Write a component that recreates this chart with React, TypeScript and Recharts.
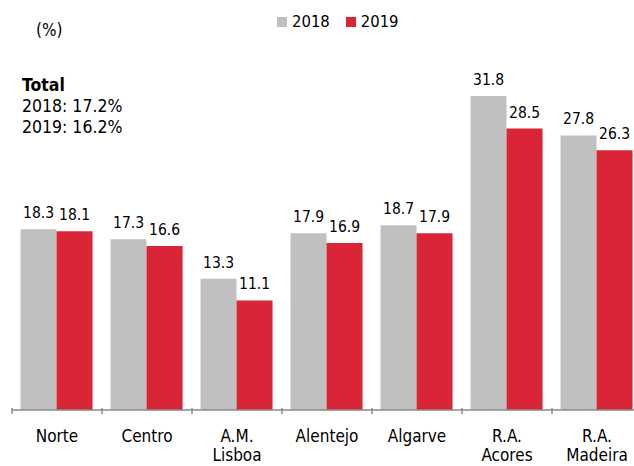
import React from "react";
import { BarChart, Bar, XAxis, YAxis, LabelList } from "recharts";

const categories = ["Norte", "Centro", "A.M.\nLisboa", "Alentejo", "Algarve", "R.A.\nAcores", "R.A.\nMadeira"];
const values2018 = [18.3, 17.3, 13.3, 17.9, 18.7, 31.8, 27.8];
const values2019 = [18.1, 16.6, 11.1, 16.9, 17.9, 28.5, 26.3];
const seriesNames = ["2018", "2019"];
const totalLines = ["2018: 17.2%", "2019: 16.2%"];

const data = categories.map((c, i) => ({ name: c, a: values2018[i], b: values2019[i] }));

const GRAY = "#C0C0C0";
const RED = "#DA2536";
const FONT = "'DejaVu Sans Condensed', 'DejaVu Sans', Verdana, sans-serif";

const CustomTick = (props: any) => {
  const { x, y, payload } = props;
  const lines = String(payload.value).split("\n");
  const half = 45;
  return (
    <g>
      <line x1={x - half} x2={x - half} y1={y - 10} y2={y - 4} stroke="#8a8a8a" strokeWidth={1.5} />
      {payload.index === categories.length - 1 && (
        <line x1={x + half} x2={x + half} y1={y - 10} y2={y - 4} stroke="#8a8a8a" strokeWidth={1.5} />
      )}
      {lines.map((l, i) => (
        <text key={i} x={x} y={y + 24 + i * 19} textAnchor="middle" fontSize={17} fill="#000" fontFamily={FONT}>
          {l}
        </text>
      ))}
    </g>
  );
};

export default function App() {
  return (
    <div style={{ position: "absolute", left: 0, top: 0, width: 634, height: 466, overflow: "hidden", background: "#fff" }}>
      <BarChart
        width={642}
        height={466}
        data={data}
        margin={{ top: 15, right: 0, left: 12, bottom: 0 }}
        barCategoryGap="9.5%"
        barGap={0}
      >
        <XAxis
          dataKey="name"
          axisLine={{ stroke: "#8a8a8a", strokeWidth: 1.5 }}
          tickLine={false}
          interval={0}
          height={56}
          tick={<CustomTick />}
        />
        <YAxis hide domain={[0, 40]} />
        <Bar dataKey="a" name={seriesNames[0]} fill={GRAY} isAnimationActive={false}>
          <LabelList dataKey="a" position="top" offset={11} fontSize={15.5} fill="#000" fontFamily={FONT} />
        </Bar>
        <Bar dataKey="b" name={seriesNames[1]} fill={RED} isAnimationActive={false}>
          <LabelList dataKey="b" position="top" offset={11} fontSize={15.5} fill="#000" fontFamily={FONT} />
        </Bar>
      </BarChart>
      <div style={{ position: "absolute", left: 277, top: 12, display: "flex", alignItems: "center", fontFamily: FONT, fontSize: 16.5, color: "#000", lineHeight: "20px" }}>
        <span style={{ display: "inline-block", width: 10, height: 10, background: GRAY, marginRight: 5 }} />
        <span style={{ marginRight: 16 }}>{seriesNames[0]}</span>
        <span style={{ display: "inline-block", width: 10, height: 10, background: RED, marginRight: 5 }} />
        <span>{seriesNames[1]}</span>
      </div>
      <div style={{ position: "absolute", left: 36, top: 20, fontFamily: FONT, fontSize: 17, color: "#000" }}>(%)</div>
      <div style={{ position: "absolute", left: 22, top: 75, fontFamily: FONT, fontSize: 17.5, color: "#000", lineHeight: "21px" }}>
        <div style={{ fontWeight: "bold" }}>Total</div>
        {totalLines.map((t) => (
          <div key={t}>{t}</div>
        ))}
      </div>
    </div>
  );
}
